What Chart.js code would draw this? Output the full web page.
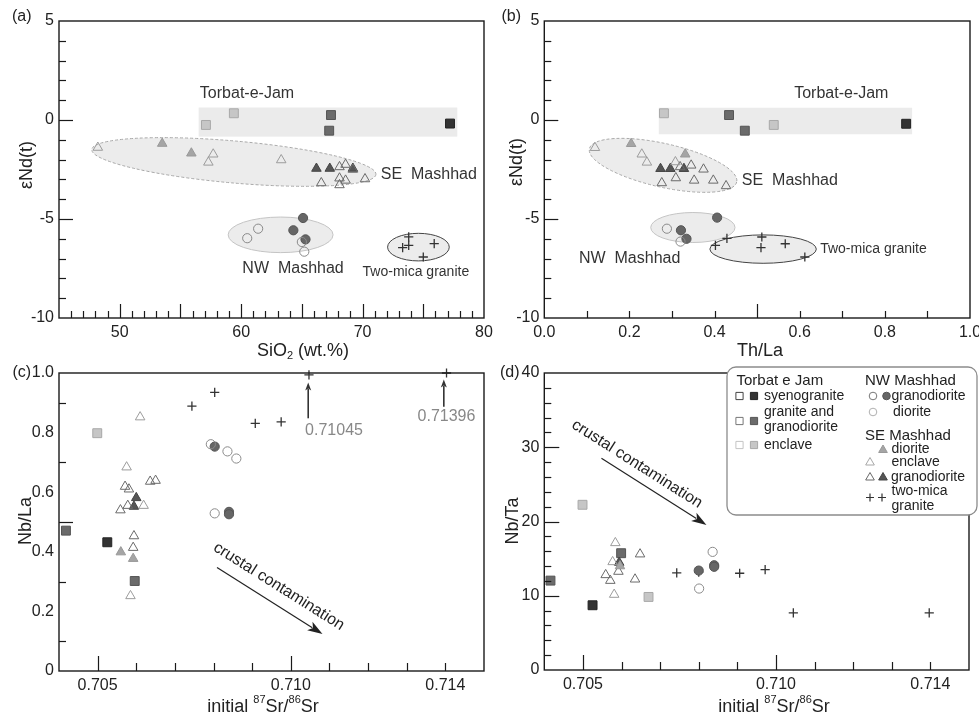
<!DOCTYPE html>
<html>
<head>
<meta charset="utf-8">
<script src="https://cdn.jsdelivr.net/npm/chart.js@4.4.1/dist/chart.umd.min.js"></script>
<style>
  body { margin: 0; background: #fff; }
  #wrap { position: relative; width: 979px; height: 716px; }
  #wrap canvas { position: absolute; left: 0; top: 0; }
</style>
</head>
<body>
<div id="wrap">
  <canvas id="chartA" width="979" height="716"></canvas>
  <canvas id="chartB" width="979" height="716"></canvas>
  <canvas id="chartC" width="979" height="716"></canvas>
  <canvas id="chartD" width="979" height="716"></canvas>
</div>
<script>
// ---- data: [x, y] pairs ----

// (a) SiO2 (wt.%) vs eNd(t)
const aSyeno = [[77.2, -0.18]];
const aGranite = [[67.4, 0.25], [67.25, -0.54]];
const aTjEnclave = [[57.1, -0.25], [59.4, 0.34]];
const aNwFilled = [[65.1, -4.95], [64.3, -5.57], [65.3, -6.03]];
const aNwOpen = [[60.5, -5.97], [61.4, -5.49], [65.0, -6.16], [65.2, -6.65]];
const aSeDiorite = [[53.5, -1.19], [55.9, -1.68]];
const aSeEnclave = [[48.2, -1.39], [57.7, -1.73], [57.3, -2.14], [63.3, -2.02]];
const aSeGranoOpen = [[68.1, -2.37], [68.6, -2.25], [69.2, -2.5], [68.1, -2.94], [68.6, -3.05], [66.6, -3.18], [68.1, -3.28], [70.2, -2.98]];
const aSeGranoFilled = [[66.2, -2.45], [67.3, -2.45], [69.2, -2.45]];
const aTwoMica = [[73.8, -5.9], [73.8, -6.33], [73.3, -6.45], [75.9, -6.24], [75.0, -6.92]];

// (b) Th/La vs eNd(t)
const bSyeno = [[0.850, -0.19]];
const bGranite = [[0.434, 0.25], [0.471, -0.54]];
const bTjEnclave = [[0.281, 0.34], [0.539, -0.25]];
const bNwFilled = [[0.321, -5.57], [0.334, -6.0], [0.406, -4.93]];
const bNwOpen = [[0.288, -5.49], [0.320, -6.14]];
const bSeDiorite = [[0.204, -1.20], [0.331, -1.73]];
const bSeEnclave = [[0.119, -1.40], [0.229, -1.73], [0.241, -2.14], [0.308, -2.12]];
const bSeGranoOpen = [[0.319, -2.37], [0.345, -2.29], [0.374, -2.49], [0.276, -3.18], [0.309, -2.93], [0.352, -3.05], [0.397, -3.05], [0.427, -3.33]];
const bSeGranoFilled = [[0.273, -2.46], [0.296, -2.46], [0.328, -2.46]];
const bTwoMica = [[0.402, -6.33], [0.429, -5.98], [0.511, -5.91], [0.509, -6.45], [0.566, -6.25], [0.612, -6.92]];

// (c) initial 87Sr/86Sr vs Nb/La
const cSyeno = [[0.70525, 0.432]];
const cGranite = [[0.70418, 0.471], [0.70596, 0.302]];
const cTjEnclave = [[0.70499, 0.798]];
const cNwFilled = [[0.70803, 0.753], [0.70840, 0.534], [0.70840, 0.526]];
const cNwOpen = [[0.70793, 0.761], [0.70836, 0.737], [0.70859, 0.713], [0.70803, 0.529]];
const cSeDiorite = [[0.70592, 0.377], [0.70560, 0.399]];
const cSeEnclave = [[0.70610, 0.852], [0.70575, 0.684], [0.70619, 0.555], [0.70585, 0.252]];
const cSeGranoOpen = [[0.70571, 0.619], [0.70581, 0.610], [0.70559, 0.540], [0.70578, 0.555], [0.70636, 0.636], [0.70650, 0.639], [0.70594, 0.453], [0.70592, 0.414]];
const cSeGranoFilled = [[0.70600, 0.581], [0.70594, 0.552]];
const cTwoMica = [[0.70744, 0.889], [0.70803, 0.935], [0.70908, 0.831], [0.70975, 0.836], [0.71047, 0.994], [0.71403, 1.0]];

// (d) initial 87Sr/86Sr vs Nb/Ta
const dSyeno = [[0.70525, 8.72]];
const dGranite = [[0.70416, 12.04], [0.70599, 15.73]];
const dTjEnclave = [[0.70499, 22.25], [0.70670, 9.84]];
const dNwFilled = [[0.70800, 13.39], [0.70840, 14.11], [0.70840, 13.9]];
const dNwOpen = [[0.70836, 15.91], [0.70801, 10.97]];
const dSeDiorite = [[0.70596, 14.0]];
const dSeEnclave = [[0.70584, 17.12], [0.70577, 14.56], [0.70581, 10.16]];
const dSeGranoOpen = [[0.70559, 12.81], [0.70571, 12.04], [0.70592, 13.26], [0.70648, 15.60], [0.70635, 12.22]];
const dSeGranoFilled = [[0.70594, 14.47]];
const dTwoMica = [[0.70743, 13.08], [0.70800, 13.17], [0.70906, 13.03], [0.70972, 13.53], [0.71045, 7.69], [0.71397, 7.69]];

// tick labels
const siLabels = [50, 60, 70, 80];
const ndLabels = [5, 0, -5, -10];
const thLaLabels = [0, 0.2, 0.4, 0.6, 0.8, 1.0];
const srLabels = [0.705, 0.710, 0.714];
const nbLaLabels = [0, 0.2, 0.4, 0.6, 0.8, 1.0];
const nbTaLabels = [0, 10, 20, 30, 40];

// ---- styles ----
const FONT = "'Liberation Sans', Arial, Helvetica, sans-serif";
Chart.defaults.font.family = FONT;
Chart.defaults.font.size = 16;
Chart.defaults.color = '#222';

const CLEAR = 'rgba(255,255,255,0)';
const STY = {
  syeno:      { pointStyle: 'rect', r: 6.3, bg: '#333333', bd: '#222' },
  granite:    { pointStyle: 'rect', r: 6.3, bg: '#6b6b6b', bd: '#555' },
  tjEnclave:  { pointStyle: 'rect', r: 6.3, bg: '#c6c6c6', bd: '#a8a8a8' },
  nwFilled:   { pointStyle: 'circle', r: 4.6, bg: '#666', bd: '#555' },
  nwOpen:     { pointStyle: 'circle', r: 4.6, bg: CLEAR, bd: '#8a8a8a' },
  seDiorite:  { pointStyle: 'triangle', r: 5.5, bg: '#a5a5a5', bd: '#999' },
  seEnclave:  { pointStyle: 'triangle', r: 5.5, bg: CLEAR, bd: '#9c9c9c' },
  seGranoOpen:{ pointStyle: 'triangle', r: 5.5, bg: CLEAR, bd: '#6a6a6a' },
  seGranoFilled:{ pointStyle: 'triangle', r: 5.5, bg: '#555', bd: '#444' },
  twoMica:    { pointStyle: 'cross', r: 4.6, bg: '#333', bd: '#333', w: 1.3 }
};

function ds(key, pts) {
  const s = STY[key];
  return {
    label: key,
    data: pts.map(([x, y]) => ({ x, y })),
    pointStyle: s.pointStyle, pointRadius: s.r,
    backgroundColor: s.bg, borderColor: s.bd, borderWidth: s.w || 1,
    clip: false
  };
}

// ---- drawing helpers ----
function rich(ctx, parts, cx, cy, size, rot) {
  ctx.save();
  ctx.translate(cx, cy);
  ctx.rotate(rot || 0);
  let w = 0;
  parts.forEach(([t, m]) => {
    ctx.font = (m === 'n' ? size : Math.round(size * 0.6)) + 'px ' + FONT;
    w += ctx.measureText(t).width;
  });
  let x = -w / 2;
  ctx.textBaseline = 'middle';
  ctx.textAlign = 'left';
  ctx.fillStyle = '#222';
  parts.forEach(([t, m]) => {
    const s = m === 'n' ? size : Math.round(size * 0.6);
    ctx.font = s + 'px ' + FONT;
    const dy = m === 'sup' ? -size * 0.38 : (m === 'sub' ? size * 0.3 : 0);
    ctx.fillText(t, x, dy);
    x += ctx.measureText(t).width;
  });
  ctx.restore();
}

function arrow(ctx, x1, y1, x2, y2, len, wid, lw, color) {
  const a = Math.atan2(y2 - y1, x2 - x1);
  ctx.save();
  ctx.strokeStyle = color; ctx.fillStyle = color; ctx.lineWidth = lw;
  ctx.beginPath();
  ctx.moveTo(x1, y1);
  ctx.lineTo(x2 - Math.cos(a) * len * 0.8, y2 - Math.sin(a) * len * 0.8);
  ctx.stroke();
  ctx.translate(x2, y2); ctx.rotate(a);
  ctx.beginPath();
  ctx.moveTo(0, 0); ctx.lineTo(-len, -wid / 2); ctx.lineTo(-len * 0.75, 0); ctx.lineTo(-len, wid / 2);
  ctx.closePath(); ctx.fill();
  ctx.restore();
}

function marker(ctx, kind, x, y, r, fill, stroke) {
  ctx.save();
  ctx.fillStyle = fill; ctx.strokeStyle = stroke; ctx.lineWidth = 1;
  ctx.beginPath();
  if (kind === 'rect') {
    ctx.rect(x - r, y - r, 2 * r, 2 * r);
  } else if (kind === 'circle') {
    ctx.arc(x, y, r, 0, Math.PI * 2);
  } else if (kind === 'triangle') {
    ctx.moveTo(x, y - r);
    ctx.lineTo(x + r * 0.866, y + r * 0.5);
    ctx.lineTo(x - r * 0.866, y + r * 0.5);
    ctx.closePath();
  } else {
    ctx.moveTo(x - r, y); ctx.lineTo(x + r, y);
    ctx.moveTo(x, y - r); ctx.lineTo(x, y + r);
    ctx.lineWidth = 1.2;
    ctx.stroke(); ctx.restore(); return;
  }
  ctx.fill(); ctx.stroke();
  ctx.restore();
}

function drawLegend(ctx) {
  ctx.save();
  ctx.beginPath();
  ctx.roundRect(727, 367, 250, 148, 9);
  ctx.fillStyle = '#fff'; ctx.fill();
  ctx.strokeStyle = '#8c8c8c'; ctx.lineWidth = 1.3; ctx.stroke();
  ctx.fillStyle = '#222'; ctx.textBaseline = 'middle'; ctx.textAlign = 'left';
  ctx.font = '15px ' + FONT;
  ctx.fillText('Torbat e Jam', 736.5, 381);
  ctx.fillText('NW Mashhad', 865, 381);
  ctx.fillText('SE Mashhad', 865, 436);
  ctx.font = '14px ' + FONT;
  [['syenogranite', 764, 396], ['granite and', 764, 412], ['granodiorite', 764, 427], ['enclave', 764, 445],
   ['granodiorite', 891.5, 396], ['diorite', 893, 412],
   ['diorite', 891.5, 449.5], ['enclave', 891.5, 462], ['granodiorite', 891, 477],
   ['two-mica', 891.5, 491.5], ['granite', 891.5, 506]].forEach(([t, x, y]) => ctx.fillText(t, x, y));
  ctx.restore();
  marker(ctx, 'rect', 739.5, 396, 3.6, '#fff', '#444');
  marker(ctx, 'rect', 754, 396, 3.6, STY.syeno.bg, STY.syeno.bd);
  marker(ctx, 'rect', 739.5, 421, 3.6, '#fff', '#777');
  marker(ctx, 'rect', 754, 421, 3.6, STY.granite.bg, STY.granite.bd);
  marker(ctx, 'rect', 739.5, 445, 3.6, '#fff', '#c4c4c4');
  marker(ctx, 'rect', 754, 445, 3.6, STY.tjEnclave.bg, STY.tjEnclave.bd);
  marker(ctx, 'circle', 873, 396, 3.8, '#fff', '#777');
  marker(ctx, 'circle', 886.5, 396, 3.8, STY.nwFilled.bg, STY.nwFilled.bd);
  marker(ctx, 'circle', 873, 412, 3.8, '#fff', '#b0b0b0');
  marker(ctx, 'triangle', 883, 450, 5, STY.seDiorite.bg, STY.seDiorite.bd);
  marker(ctx, 'triangle', 870, 462.5, 5, '#fff', '#a8a8a8');
  marker(ctx, 'triangle', 870, 477.5, 5, '#fff', '#6a6a6a');
  marker(ctx, 'triangle', 883, 477.5, 5, STY.seGranoFilled.bg, STY.seGranoFilled.bd);
  marker(ctx, 'cross', 870, 497.5, 4, '#333', '#333');
  marker(ctx, 'cross', 882, 497.5, 4, '#333', '#333');
}

// ---- plugin: boxes, ellipses, frame, inner ticks, notes, arrows, titles ----
const decorPlugin = {
  id: 'decor',
  beforeDatasetsDraw(chart, args, o) {
    const ctx = chart.ctx, xs = chart.scales.x, ys = chart.scales.y;
    ctx.save();
    (o.boxes || []).forEach(b => {
      const x1 = xs.getPixelForValue(b.x1), x2 = xs.getPixelForValue(b.x2);
      const y1 = ys.getPixelForValue(b.y1), y2 = ys.getPixelForValue(b.y2);
      ctx.fillStyle = '#ebebeb';
      ctx.fillRect(x1, y2, x2 - x1, y1 - y2);
    });
    (o.ellipses || []).forEach(e => {
      const x1 = xs.getPixelForValue(e.x1), y1 = ys.getPixelForValue(e.y1);
      const x2 = xs.getPixelForValue(e.x2), y2 = ys.getPixelForValue(e.y2);
      const a = Math.hypot(x2 - x1, y2 - y1) / 2, ang = Math.atan2(y2 - y1, x2 - x1);
      ctx.beginPath();
      ctx.ellipse((x1 + x2) / 2, (y1 + y2) / 2, a, e.half, ang, 0, Math.PI * 2);
      ctx.fillStyle = '#ececec'; ctx.fill();
      ctx.setLineDash(e.dash || []);
      ctx.strokeStyle = e.stroke; ctx.lineWidth = 1;
      ctx.stroke();
      ctx.setLineDash([]);
    });
    ctx.restore();
  },
  afterDatasetsDraw(chart, args, o) {
    const ctx = chart.ctx, xs = chart.scales.x, ys = chart.scales.y, ca = chart.chartArea;
    ctx.save();
    // inner tick marks
    ctx.strokeStyle = '#1a1a1a'; ctx.lineWidth = 1.2;
    const marks = (sc, t, horiz) => {
      const n = Math.round((sc.max - sc.min) / t.step);
      for (let i = 1; i < n; i++) {
        const v = sc.min + i * t.step;
        const q = v / t.major;
        const major = Math.abs(q - Math.round(q)) < 1e-6;
        if (!major && (t.skip || []).some(s => Math.abs(s - v) < t.step / 10)) continue;
        const len = major ? t.majorLen : t.minorLen;
        const p = Math.round(sc.getPixelForValue(v)) + 0.5;
        ctx.beginPath();
        if (horiz) { ctx.moveTo(p, ca.bottom); ctx.lineTo(p, ca.bottom - len); }
        else { ctx.moveTo(ca.left, p); ctx.lineTo(ca.left + len, p); }
        ctx.stroke();
      }
    };
    marks(xs, o.ticks.x, true);
    marks(ys, o.ticks.y, false);
    // frame
    ctx.lineWidth = 1.4;
    ctx.strokeRect(ca.left, ca.top, ca.right - ca.left, ca.bottom - ca.top);
    // arrows
    (o.arrows || []).forEach(a => {
      arrow(ctx, xs.getPixelForValue(a.x1), ys.getPixelForValue(a.y1),
        xs.getPixelForValue(a.x2), ys.getPixelForValue(a.y2), a.len, a.wid, a.lw, a.color);
    });
    // notes in data coordinates
    (o.notes || []).forEach(n => {
      let rot = 0;
      if (n.along !== undefined) {
        const a = o.arrows[n.along];
        rot = Math.atan2(ys.getPixelForValue(a.y2) - ys.getPixelForValue(a.y1),
          xs.getPixelForValue(a.x2) - xs.getPixelForValue(a.x1));
      }
      ctx.save();
      ctx.translate(xs.getPixelForValue(n.x), ys.getPixelForValue(n.y));
      ctx.rotate(rot);
      ctx.font = n.size + 'px ' + FONT;
      ctx.fillStyle = n.color || '#333';
      ctx.textAlign = n.align || 'left';
      ctx.textBaseline = 'middle';
      ctx.fillText(n.text, 0, 0);
      ctx.restore();
    });
    ctx.restore();
  },
  afterDraw(chart, args, o) {
    const ctx = chart.ctx;
    ctx.save();
    ctx.font = '16px ' + FONT; ctx.fillStyle = '#222';
    ctx.textBaseline = 'middle'; ctx.textAlign = 'left';
    ctx.fillText(o.tag[0], o.tag[1], o.tag[2]);
    ctx.restore();
    o.titles.forEach(t => rich(ctx, t.parts, t.x, t.y, 18, t.rot));
    if (o.legend) drawLegend(ctx);
  }
};

function makePanel(id, p) {
  const fit = (key, val) => (s) => {
    s[key] = val;
    s.paddingLeft = 0; s.paddingRight = 0; s.paddingTop = 0; s.paddingBottom = 0;
  };
  return new Chart(document.getElementById(id), {
    type: 'scatter',
    data: { datasets: p.sets.map(([k, pts]) => ds(k, pts)) },
    options: {
      responsive: false,
      animation: false,
      events: [],
      layout: { padding: p.pad },
      plugins: { legend: { display: false }, tooltip: { enabled: false }, decor: p.decor },
      scales: {
        x: {
          type: 'linear', min: p.x[0], max: p.x[1],
          grid: { display: false, drawTicks: false }, border: { display: false },
          ticks: { padding: 5, font: { size: 16 }, color: '#222', callback: p.xFmt },
          afterBuildTicks: s => { s.ticks = p.xLabels.map(v => ({ value: v })); },
          afterFit: fit('height', p.xH)
        },
        y: {
          type: 'linear', min: p.y[0], max: p.y[1],
          grid: { display: false, drawTicks: false }, border: { display: false },
          ticks: { padding: 5, font: { size: 16 }, color: '#222', callback: p.yFmt },
          afterBuildTicks: s => { s.ticks = p.yLabels.map(v => ({ value: v })); },
          afterFit: fit('width', p.yW)
        }
      }
    },
    plugins: [decorPlugin]
  });
}

const intFmt = v => String(v);
const oneDec = v => v.toFixed(1);
const srFmt = v => v.toFixed(3);
const nbLaFmt = v => (v === 0 ? '0' : v.toFixed(1));
const ndTitle = [['εNd(t)', 'n']];
const srTitle = [['initial ', 'n'], ['87', 'sup'], ['Sr/', 'n'], ['86', 'sup'], ['Sr', 'n']];

makePanel('chartA', {
  sets: [['seDiorite', aSeDiorite], ['seEnclave', aSeEnclave], ['seGranoOpen', aSeGranoOpen], ['seGranoFilled', aSeGranoFilled],
         ['tjEnclave', aTjEnclave], ['granite', aGranite], ['syeno', aSyeno],
         ['nwOpen', aNwOpen], ['nwFilled', aNwFilled], ['twoMica', aTwoMica]],
  pad: { left: 0, top: 21, right: 495, bottom: 356 }, xH: 42, yW: 59,
  x: [45, 80], y: [-10, 5], xLabels: siLabels, yLabels: ndLabels, xFmt: intFmt, yFmt: intFmt,
  decor: {
    tag: ['(a)', 12, 17],
    titles: [{ parts: [['SiO', 'n'], ['2', 'sub'], [' (wt.%)', 'n']], x: 303, y: 351 },
             { parts: ndTitle, x: 27, y: 165, rot: -Math.PI / 2 }],
    ticks: { x: { step: 1, major: 5, minorLen: 7, majorLen: 14 }, y: { step: 1, major: 5, minorLen: 7, majorLen: 14 } },
    boxes: [{ x1: 56.5, x2: 77.8, y1: -0.84, y2: 0.63 }],
    ellipses: [{ x1: 47.7, y1: -1.49, x2: 71.1, y2: -2.75, half: 21, stroke: '#a8a8a8', dash: [3, 2] },
               { x1: 58.93, y1: -5.8, x2: 67.57, y2: -5.8, half: 17.8, stroke: '#c4c4c4' },
               { x1: 72.06, y1: -6.42, x2: 77.14, y2: -6.42, half: 13.8, stroke: '#444' }],
    notes: [{ text: 'Torbat-e-Jam', x: 56.6, y: 1.35, size: 16 },
            { text: 'SE  Mashhad', x: 71.5, y: -2.78, size: 16 },
            { text: 'NW  Mashhad', x: 60.1, y: -7.49, size: 16 },
            { text: 'Two-mica granite', x: 70.0, y: -7.68, size: 14 }]
  }
});

makePanel('chartB', {
  sets: [['seDiorite', bSeDiorite], ['seEnclave', bSeEnclave], ['seGranoOpen', bSeGranoOpen], ['seGranoFilled', bSeGranoFilled],
         ['tjEnclave', bTjEnclave], ['granite', bGranite], ['syeno', bSyeno],
         ['nwOpen', bNwOpen], ['nwFilled', bNwFilled], ['twoMica', bTwoMica]],
  pad: { left: 490, top: 21, right: 9, bottom: 356 }, xH: 42, yW: 54.3,
  x: [0, 1], y: [-10, 5], xLabels: thLaLabels, yLabels: ndLabels, xFmt: oneDec, yFmt: intFmt,
  decor: {
    tag: ['(b)', 501.5, 17],
    titles: [{ parts: [['Th/La', 'n']], x: 760, y: 351 },
             { parts: ndTitle, x: 517, y: 162, rot: -Math.PI / 2 }],
    ticks: { x: { step: 0.1, major: 0.5, minorLen: 7, majorLen: 14 }, y: { step: 1, major: 5, minorLen: 7, majorLen: 14 } },
    boxes: [{ x1: 0.269, x2: 0.864, y1: -0.72, y2: 0.62 }],
    ellipses: [{ x1: 0.106, y1: -1.45, x2: 0.452, y2: -3.13, half: 21.8, stroke: '#a8a8a8', dash: [3, 2] },
               { x1: 0.250, y1: -5.43, x2: 0.448, y2: -5.43, half: 15, stroke: '#c4c4c4' },
               { x1: 0.389, y1: -6.52, x2: 0.639, y2: -6.52, half: 14.2, stroke: '#444' }],
    notes: [{ text: 'Torbat-e-Jam', x: 0.587, y: 1.35, size: 16 },
            { text: 'SE  Mashhad', x: 0.464, y: -3.05, size: 16 },
            { text: 'NW  Mashhad', x: 0.0815, y: -6.98, size: 16 },
            { text: 'Two-mica granite', x: 0.648, y: -6.53, size: 14 }]
  }
});

makePanel('chartC', {
  sets: [['seDiorite', cSeDiorite], ['seEnclave', cSeEnclave], ['seGranoOpen', cSeGranoOpen], ['seGranoFilled', cSeGranoFilled],
         ['tjEnclave', cTjEnclave], ['granite', cGranite], ['syeno', cSyeno],
         ['nwOpen', cNwOpen], ['nwFilled', cNwFilled], ['twoMica', cTwoMica]],
  pad: { left: 0, top: 373, right: 495, bottom: 0 }, xH: 45, yW: 59,
  x: [0.704, 0.715], y: [0, 1], xLabels: srLabels, yLabels: nbLaLabels, xFmt: srFmt, yFmt: nbLaFmt,
  decor: {
    tag: ['(c)', 12.5, 373],
    titles: [{ parts: srTitle, x: 263, y: 707 },
             { parts: [['Nb/La', 'n']], x: 26, y: 521, rot: -Math.PI / 2 }],
    ticks: { x: { step: 0.001, major: 0.005, minorLen: 8, majorLen: 15 },
             y: { step: 0.1, major: 0.5, minorLen: 7, majorLen: 14, skip: nbLaLabels } },
    arrows: [{ x1: 0.70809, y1: 0.347, x2: 0.71082, y2: 0.124, len: 15, wid: 10, lw: 1.2, color: '#222' },
             { x1: 0.71045, y1: 0.848, x2: 0.71045, y2: 0.968, len: 8, wid: 6, lw: 1.6, color: '#333' },
             { x1: 0.71396, y1: 0.887, x2: 0.71396, y2: 0.978, len: 8, wid: 6, lw: 1.6, color: '#333' }],
    notes: [{ text: 'crustal contamination', x: 0.70969, y: 0.2836, size: 16, align: 'center', along: 0, color: '#222' },
            { text: '0.71045', x: 0.71037, y: 0.808, size: 16, color: '#888' },
            { text: '0.71396', x: 0.71328, y: 0.853, size: 16, color: '#888' }]
  }
});

makePanel('chartD', {
  sets: [['seDiorite', dSeDiorite], ['seEnclave', dSeEnclave], ['seGranoOpen', dSeGranoOpen], ['seGranoFilled', dSeGranoFilled],
         ['tjEnclave', dTjEnclave], ['granite', dGranite], ['syeno', dSyeno],
         ['nwOpen', dNwOpen], ['nwFilled', dNwFilled], ['twoMica', dTwoMica]],
  pad: { left: 490, top: 373, right: 10, bottom: 0 }, xH: 46, yW: 54.3,
  x: [0.704, 0.715], y: [0, 40], xLabels: srLabels, yLabels: nbTaLabels, xFmt: srFmt, yFmt: intFmt,
  decor: {
    tag: ['(d)', 500, 373],
    legend: true,
    titles: [{ parts: srTitle, x: 774, y: 707 },
             { parts: [['Nb/Ta', 'n']], x: 513, y: 521, rot: -Math.PI / 2 }],
    ticks: { x: { step: 0.001, major: 0.005, minorLen: 8, majorLen: 15 },
             y: { step: 2, major: 10, minorLen: 7, majorLen: 15 } },
    arrows: [{ x1: 0.70548, y1: 28.53, x2: 0.7082, y2: 19.54, len: 15, wid: 10, lw: 1.2, color: '#222' }],
    notes: [{ text: 'crustal contamination', x: 0.7064, y: 27.74, size: 16, align: 'center', along: 0, color: '#222' }]
  }
});
</script>
</body>
</html>
